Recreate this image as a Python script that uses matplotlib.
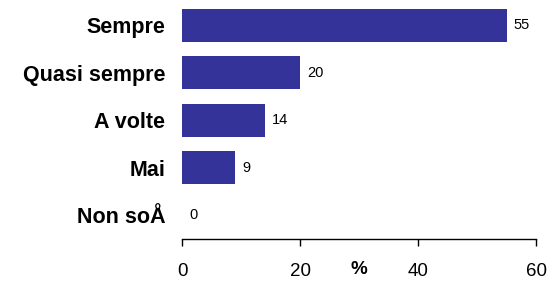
import matplotlib
matplotlib.use("Agg")
import matplotlib.pyplot as plt
from matplotlib.transforms import blended_transform_factory

categories = ["Sempre", "Quasi sempre", "A volte", "Mai", "Non soÅ"]
values = [55, 20, 14, 9, 0]
xticks = [0, 20, 40, 60]

plt.rcParams['font.family'] = ['Liberation Sans', 'DejaVu Sans']

fig = plt.figure(figsize=(5.5, 2.84), dpi=100)
ax = fig.add_axes([0.331, 0.1585, 0.6436, 0.836])
ypos = list(range(len(categories)))
ax.barh(ypos, values, height=0.7, color="#333399")
ax.set_ylim(4.5, -0.5)
ax.set_xlim(0, 60)
for y, v in zip(ypos, values):
    ax.annotate(str(v), xy=(v, y), xytext=(5, 0), textcoords="offset points",
                va="center", ha="left", fontsize=10.5)
ax.set_yticks(ypos)
ax.set_yticklabels(categories, fontsize=15.5, fontweight="bold")
ax.tick_params(axis="y", length=0, pad=12)
ax.set_xticks(xticks)
ax.set_xticklabels([str(t) for t in xticks], fontsize=13.5)
ax.tick_params(axis="x", direction="out", length=5, width=1, pad=12)
for s in ["top", "right", "left"]:
    ax.spines[s].set_visible(False)
ax.spines["bottom"].set_linewidth(1)
tr = blended_transform_factory(ax.transData, ax.transAxes)
ax.text(30, -0.13, "%", transform=tr, ha="center", va="center",
        fontsize=13.5, fontweight="bold")
fig.savefig("out.png", dpi=100)
